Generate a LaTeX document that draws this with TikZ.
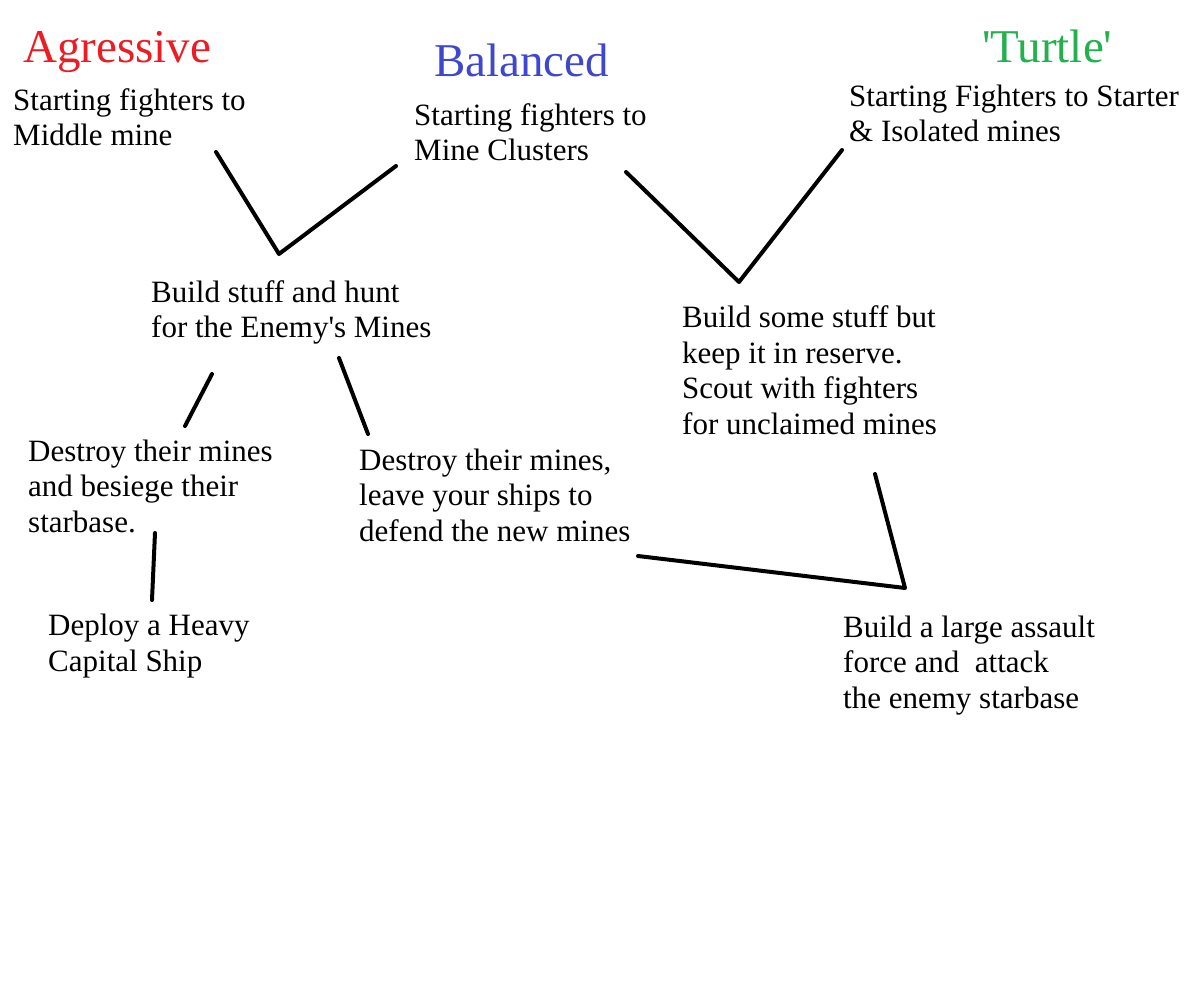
\documentclass[tikz,border=0pt]{standalone}
\usepackage{fontspec}
\setmainfont[Ligatures=TeXOff]{Liberation Serif}
\definecolor{aggred}{RGB}{237,28,36}
\definecolor{balblue}{RGB}{63,72,204}
\definecolor{turtgreen}{RGB}{34,177,76}
\begin{document}
\begin{tikzpicture}[x=1pt,y=-1pt,
  txt/.style={anchor=base west,inner sep=0pt,align=left,font=\fontsize{31}{35.5}\selectfont},
  ttl/.style={anchor=base west,inner sep=0pt,font=\fontsize{47}{54}\selectfont},
  link/.style={line width=4pt,line cap=round,line join=round}]
\useasboundingbox[fill=white] (0,0) rectangle (1200,1000);
% titles
\node[ttl,text=aggred] (tA) at (23,63) {Agressive};
\node[ttl,text=balblue] (tB) at (434,77) {Balanced};
\node[ttl,text=turtgreen] (tT) at (982,63) {'Turtle'};
% texts (anchor = baseline of last line)
\node[txt] (a1) at (13,146) {Starting fighters to\\Middle mine};
\node[txt] (b1) at (414,161) {Starting fighters to\\Mine Clusters};
\node[txt] (c1) at (849,142) {Starting Fighters to Starter\\\& Isolated mines};
\node[txt] (hunt) at (151,338) {Build stuff and hunt\\for the Enemy's Mines};
\node[txt] (res) at (682,434) {Build some stuff but\\keep it in reserve.\\Scout with fighters\\for unclaimed mines};
\node[txt] (sieg) at (28,532) {Destroy their mines\\and besiege their\\starbase.};
\node[txt] (def) at (359,541) {Destroy their mines,\\leave your ships to\\defend the new mines};
\node[txt] (cap) at (48,671) {Deploy a Heavy\\Capital Ship};
\node[txt] (asl) at (843,708) {Build a large assault\\force and\ \ attack\\the enemy starbase};
% connector points
\coordinate (p1) at (216,152);
\coordinate (v1) at (279,254);
\coordinate (p2) at (396,166);
\coordinate (p3) at (626,172);
\coordinate (v2) at (739,282);
\coordinate (p4) at (842,150);
\coordinate (p5) at (212,374);
\coordinate (p6) at (185,426);
\coordinate (p7) at (339,358);
\coordinate (p8) at (368,434);
\coordinate (p9) at (155,533);
\coordinate (p10) at (152,600);
\coordinate (p11) at (638,556);
\coordinate (v3) at (905,588);
\coordinate (p12) at (875,474);
\draw[link] (p1) -- (v1) -- (p2);
\draw[link] (p3) -- (v2) -- (p4);
\draw[link] (p5) -- (p6);
\draw[link] (p7) -- (p8);
\draw[link] (p9) -- (p10);
\draw[link] (p11) -- (v3) -- (p12);
\end{tikzpicture}
\end{document}
